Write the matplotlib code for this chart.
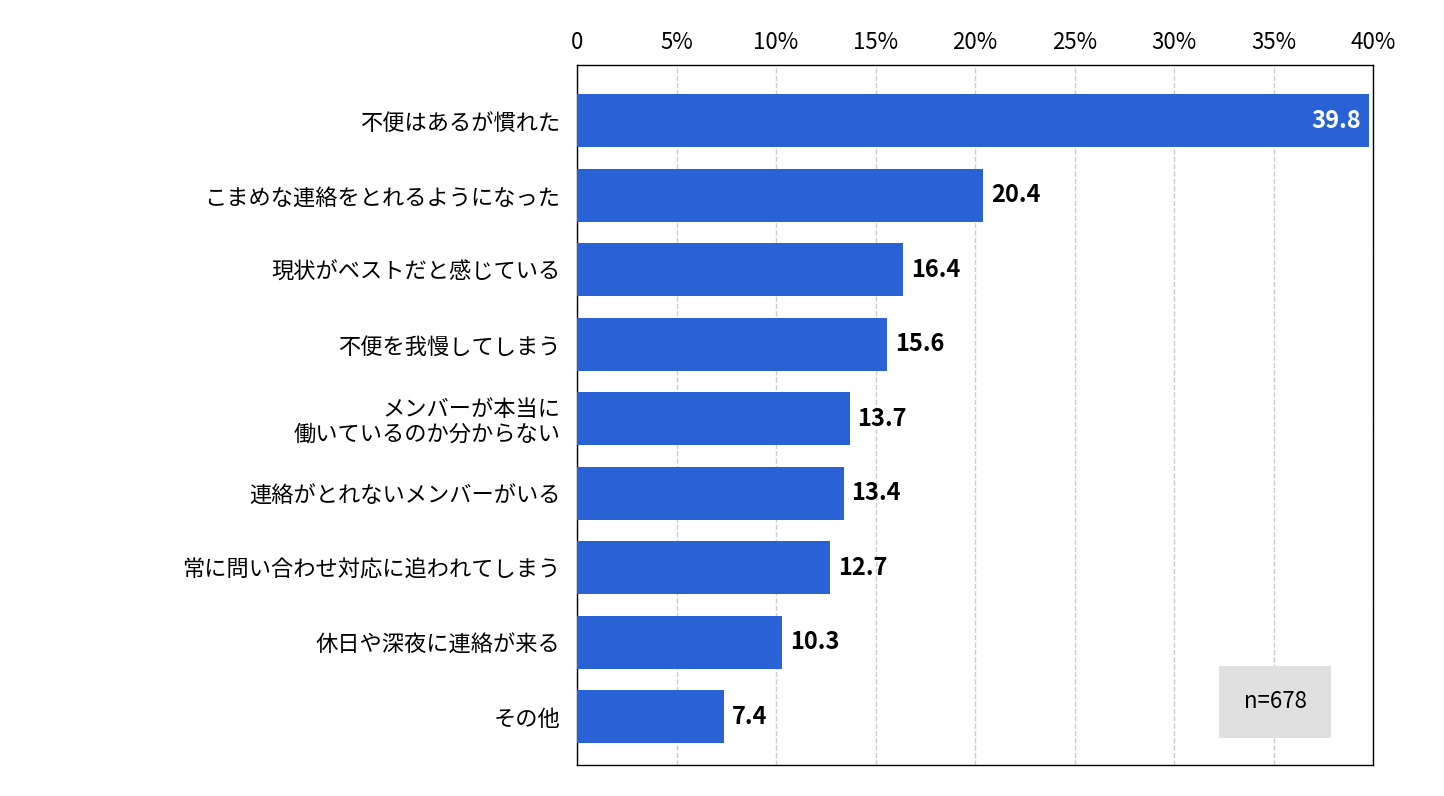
import matplotlib
matplotlib.use('Agg')
from matplotlib import pyplot as plt

plt.rcParams['font.family'] = ['Noto Sans CJK JP', 'DejaVu Sans']

categories = ['不便はあるが慣れた', 'こまめな連絡をとれるようになった', '現状がベストだと感じている',
              '不便を我慢してしまう', 'メンバーが本当に\n働いているのか分からない', '連絡がとれないメンバーがいる',
              '常に問い合わせ対応に追われてしまう', '休日や深夜に連絡が来る', 'その他']
values = [39.8, 20.4, 16.4, 15.6, 13.7, 13.4, 12.7, 10.3, 7.4]
ticks = [0, 5, 10, 15, 20, 25, 30, 35, 40]
tick_labels = ['0', '5%', '10%', '15%', '20%', '25%', '30%', '35%', '40%']

fig = plt.figure(figsize=(14.44, 7.96), dpi=100)
ax = fig.add_axes([577/1444, 1-765/796, 796/1444, 700/796])
ypos = range(len(values))
ax.barh(ypos, values, height=0.71, color='#2962D5', zorder=3)
ax.set_xlim(0, 40)
ax.set_ylim(8.645, -0.75)
ax.set_yticks(list(ypos))
ax.set_yticklabels(categories, fontsize=16, linespacing=1.1)
ax.set_xticks(ticks)
ax.set_xticklabels(tick_labels, fontsize=16)
ax.xaxis.tick_top()
ax.tick_params(length=0, pad=8)
ax.tick_params(axis='y', pad=12)
ax.grid(axis='x', linestyle='--', color='#cccccc', linewidth=1, zorder=0)
for s in ax.spines.values():
    s.set_color('black')
    s.set_linewidth(1)

for i, v in enumerate(values):
    if i == 0:
        ax.text(v - 0.4, i, f'{v}', ha='right', va='center', color='white',
                fontsize=17, fontweight='bold')
    else:
        ax.text(v + 0.4, i, f'{v}', ha='left', va='center', color='black',
                fontsize=17, fontweight='bold')

fig.text(1275/1444, 1-702/796, 'n=678', ha='center', va='center', fontsize=16,
         bbox=dict(facecolor='#e0e0e0', edgecolor='none', boxstyle='square,pad=1.1'))

fig.savefig('out.png', dpi=100)
